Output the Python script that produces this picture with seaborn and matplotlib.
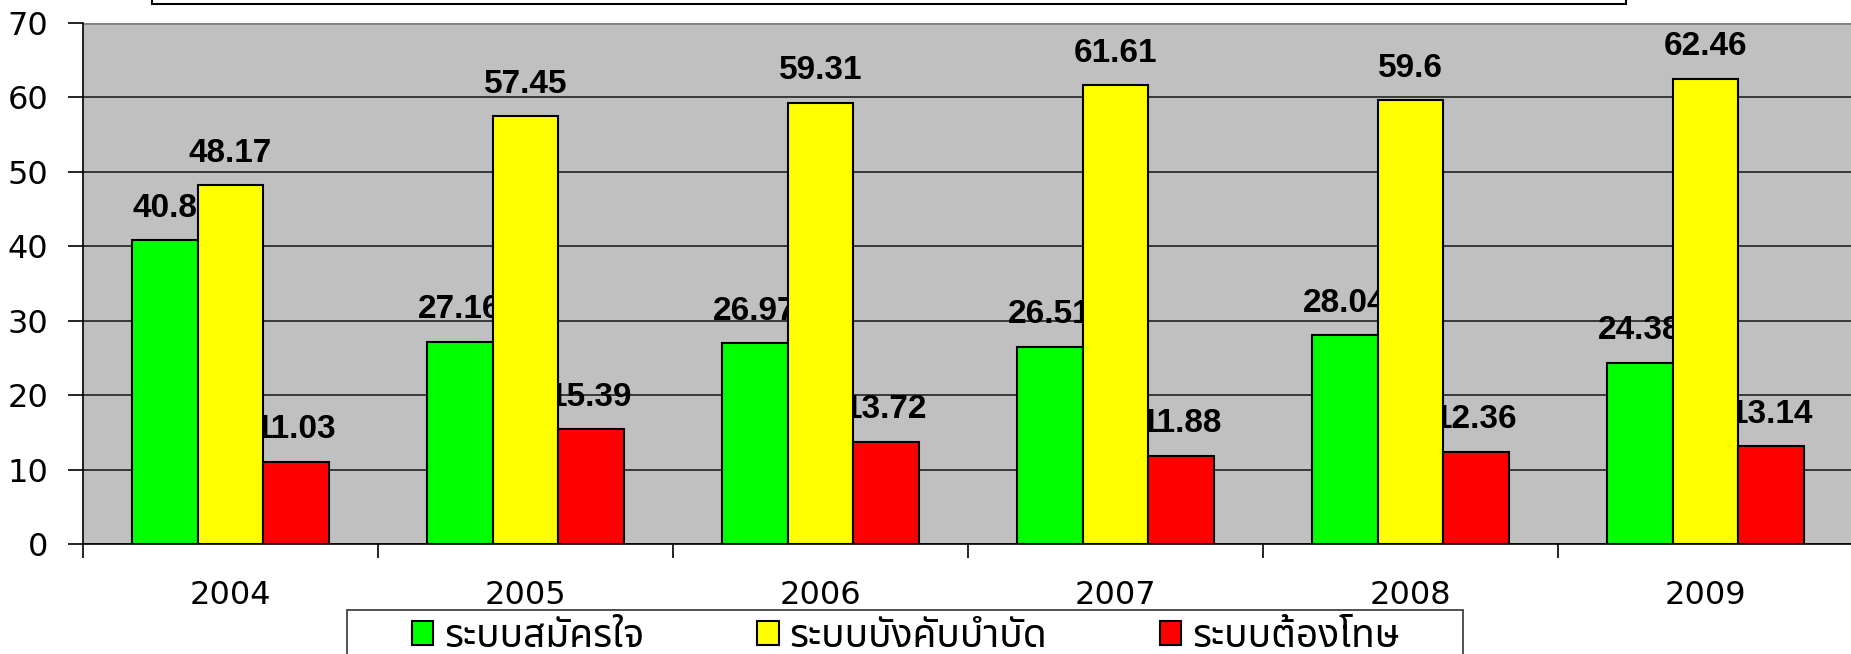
import pandas as pd
import matplotlib
matplotlib.use("Agg")
import matplotlib.pyplot as plt
from matplotlib.patches import Rectangle
import seaborn as sns

years = ["2004", "2005", "2006", "2007", "2008", "2009"]
systems = ["ระบบสมัครใจ", "ระบบบังคับบำบัด", "ระบบต้องโทษ"]
voluntary = [40.8, 27.16, 26.97, 26.51, 28.04, 24.38]
compulsory = [48.17, 57.45, 59.31, 61.61, 59.6, 62.46]
penal = [11.03, 15.39, 13.72, 11.88, 12.36, 13.14]
colors = ["#00FF00", "#FFFF00", "#FF0000"]

df = pd.DataFrame({
    "year": years * 3,
    "value": voluntary + compulsory + penal,
    "system": [systems[0]] * 6 + [systems[1]] * 6 + [systems[2]] * 6,
})

sns.set_style("white")
plt.rcParams["font.family"] = ["DejaVu Sans"]
plt.rcParams["text.color"] = "black"
plt.rcParams["xtick.color"] = "black"
plt.rcParams["ytick.color"] = "black"

fig = plt.figure(figsize=(18.51, 6.54), dpi=100)
ax = fig.add_axes([83 / 1851, 110 / 654, 1770 / 1851, 521 / 654])
ax.set_facecolor("#C0C0C0")

sns.barplot(data=df, x="year", y="value", hue="system", palette=colors, saturation=1,
            width=0.667, edgecolor="black", linewidth=1.5, ax=ax, legend=False)

# value labels sit behind the bars, like in the original
for cont, vals in zip(ax.containers, [voluntary, compulsory, penal]):
    for b in cont:
        b.set_zorder(2)
    txts = ax.bar_label(cont, labels=[f"{v:g}" for v in vals], padding=12,
                        fontsize=24, fontweight="bold", family="Liberation Sans",
                        color="black")
    for t in txts:
        t.set_zorder(1.5)

ax.set_ylim(0, 70)
ax.set_yticks(range(0, 71, 10))
ax.set_xlim(-0.5, 5.5)
ax.grid(axis="y", color="#222222", linewidth=1.2)
ax.set_axisbelow(True)
ax.set_xlabel("")
ax.set_ylabel("")
ax.tick_params(axis="y", length=11, width=1.2, pad=14, labelsize=23, direction="out", left=True)
ax.tick_params(axis="x", length=0, pad=26, labelsize=23)
ax.set_xticks([i + 0.5 for i in range(-1, 6)], minor=True)
ax.tick_params(axis="x", which="minor", length=10, width=1.2, direction="out", bottom=True)
for s in ["top", "right"]:
    ax.spines[s].set_visible(False)
for s in ["left", "bottom"]:
    ax.spines[s].set_color("black")
    ax.spines[s].set_linewidth(1.2)
ax.axhline(70, color="#808080", linewidth=2, zorder=0.6)

# legend box (runs off the bottom edge), entries drawn without their own frame
fig.patches.append(Rectangle((347 / 1851, -0.05), 1116 / 1851, 44 / 654 + 0.05,
                             transform=fig.transFigure, facecolor="white",
                             edgecolor="#333333", linewidth=1.2))
handles = [Rectangle((0, 0), 1, 1, facecolor=c, edgecolor="black", linewidth=1.5) for c in colors]
leg = fig.legend(handles, systems, loc="upper center", ncol=3,
                 bbox_to_anchor=(906 / 1851, 40 / 654),
                 frameon=False,
                 handlelength=0.55, handleheight=0.55, handletextpad=0.28,
                 columnspacing=2.9, borderpad=0.1, borderaxespad=0,
                 prop={"family": ["Noto Sans Thai", "DejaVu Sans"], "size": 28})

# empty title box cut off at the top edge
fig.patches.append(Rectangle((152 / 1851, 650 / 654), 1474 / 1851, 0.1,
                             transform=fig.transFigure, facecolor="white",
                             edgecolor="black", linewidth=1.5))

fig.savefig("out.png", dpi=100)
